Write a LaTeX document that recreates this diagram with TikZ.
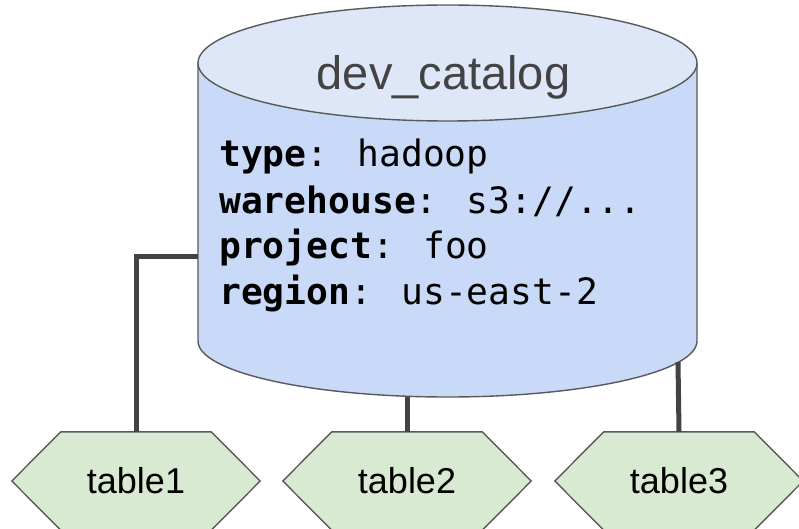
\documentclass[tikz,border=0pt]{standalone}
\usepackage{fontspec}
\setmainfont{Liberation Sans}
\newfontfamily\codefont{DejaVu Sans Mono}
\usetikzlibrary{backgrounds}
\definecolor{bodyblue}{HTML}{C9DAF8}
\definecolor{topblue}{HTML}{DDE7F8}
\definecolor{hexgreen}{HTML}{D9EAD3}
\definecolor{outline}{HTML}{595959}
\definecolor{wire}{HTML}{434343}
\definecolor{titlegray}{HTML}{434343}
\tikzset{
  outl/.style={draw=outline, line width=1.4pt},
  wireline/.style={draw=wire, line width=5pt},
  tbl/.style={minimum width=248pt, minimum height=98pt, inner sep=0pt, font=\fontsize{36}{40}\selectfont, text=black},
  hexshape/.style={fill=hexgreen, outl},
  codeline/.style={anchor=base west, inner sep=0pt, font=\codefont\fontsize{36.3}{44}\selectfont, text=black},
  title/.style={anchor=base, inner sep=0pt, font=\fontsize{47}{50}\selectfont, text=titlegray}
}
\begin{document}
\begin{tikzpicture}[x=1pt,y=1pt]
\useasboundingbox (0,0) rectangle (799,-529);
% cylinder
\fill[bodyblue] (198,-63) -- (198,-341) arc[start angle=180,end angle=360,x radius=249.5pt,y radius=56pt] -- (697,-63) -- cycle;
\draw[outl] (198,-63) -- (198,-341) arc[start angle=180,end angle=360,x radius=249.5pt,y radius=56pt] -- (697,-63);
\filldraw[fill=topblue, outl] (447.5,-63) ellipse[x radius=249.5pt, y radius=58pt];
\node[minimum width=499pt, minimum height=392pt, inner sep=0pt] (cat) at (447.5,-201) {};
\coordinate (catL) at (198,-256);
\coordinate (catR) at (678,-362);
\node[title] (ttl) at (443.5,-90) {dev\_catalog};
\node[codeline] (c1) at (219,-167) {\textbf{type}: hadoop};
\node[codeline] (c2) at (219,-213) {\textbf{warehouse}: s3://...};
\node[codeline] (c3) at (219,-258.5) {\textbf{project}: foo};
\node[codeline] (c4) at (219,-304) {\textbf{region}: us-east-2};
% tables
\node[tbl] (t1) at (136,-481) {table1};
\node[tbl] (t2) at (407,-481) {table2};
\node[tbl] (t3) at (679,-481) {table3};
\begin{scope}[on background layer]
\foreach \t in {t1,t2,t3}{
  \path[hexshape] (\t.west) -- ([xshift=49pt]\t.north west) -- ([xshift=-49pt]\t.north east) -- (\t.east) -- ([xshift=-49pt]\t.south east) -- ([xshift=49pt]\t.south west) -- cycle;
}
\end{scope}
% connectors
\draw[wireline] (t1.north) |- (catL);
\draw[wireline] (t2.north) -- (t2.north |- cat.south);
\draw[wireline] (t3.north) -- (catR);
\end{tikzpicture}
\end{document}
